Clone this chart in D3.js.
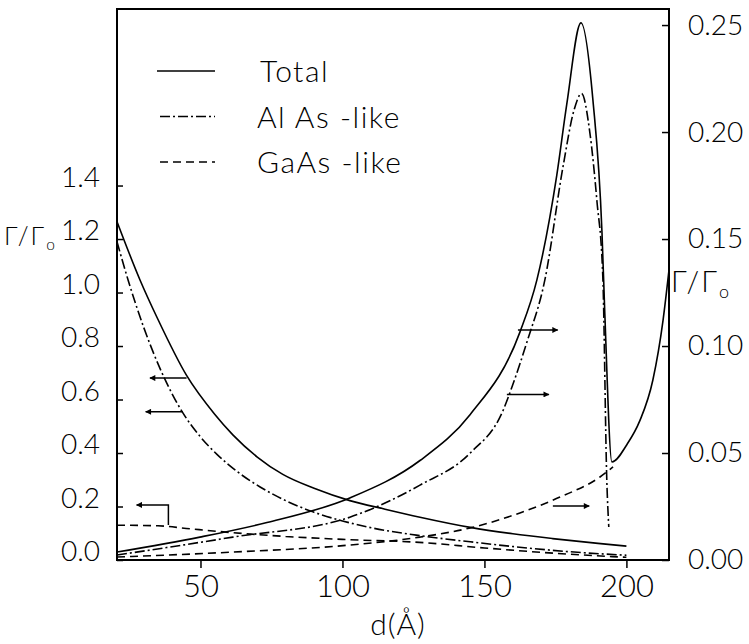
<!DOCTYPE html>
<html>
<head>
<meta charset="utf-8">
<script src="https://cdn.jsdelivr.net/npm/d3@7"></script>
<style>
    body { margin: 0; background: #fff; }
    svg text { font-family: Lato, "DejaVu Sans", sans-serif; font-weight: 300; fill: #000; }
</style>
</head>
<body>
<svg id="chart" width="749" height="644"></svg>
<script>
/*************************************************************************************************************
 * Data: d in Angstrom, left axis = G/G0 (decreasing curves), right axis = G/G0 (rising)
 *************************************************************************************************************/
let xTicks = [50, 100, 150, 200];
let leftTicks = [0, 0.2, 0.4, 0.6, 0.8, 1.0, 1.2, 1.4];
let rightTicks = [0, 0.05, 0.10, 0.15, 0.20, 0.25];

// decreasing branch, read on the left axis
let totalLeft = [[20.6, 1.265], [28.7, 1.047], [35, 0.9], [45.1, 0.69], [55, 0.545], [61.4, 0.468],
    [70, 0.385], [79, 0.32], [90, 0.268], [102.6, 0.222], [115, 0.19], [127.3, 0.16], [145, 0.122],
    [160, 0.098], [174, 0.08], [190, 0.062], [200, 0.052]];
let alasLeft = [[20.6, 1.19], [24.5, 1.047], [30, 0.87], [36, 0.71], [43.8, 0.55], [50, 0.46], [55.8, 0.395],
    [63, 0.33], [71, 0.273], [80, 0.222], [89.6, 0.18], [100, 0.146], [108.6, 0.124], [126, 0.093],
    [145, 0.068], [165, 0.045], [185, 0.027], [200, 0.018]];
let gaasLeft = [[20.6, 0.13], [35, 0.128], [45, 0.118], [61.5, 0.102], [80, 0.088], [100, 0.077],
    [127, 0.066], [150, 0.045], [175, 0.025], [200, 0.01]];

// rising branch, read on the right axis
let totalRight = [[20.6, 0.0037], [49.8, 0.0107], [73.4, 0.0175], [102.6, 0.029], [127.3, 0.0465],
    [145, 0.068], [162.5, 0.1065], [168.5, 0.131], [175.5, 0.18], [179, 0.213], [184, 0.251],
    [188.2, 0.215], [191.4, 0.153], [192.4, 0.115], [194.9, 0.0458], [200.2, 0.054], [204.7, 0.065],
    [209.3, 0.084], [212.9, 0.112], [215, 0.1355]];
let alasRight = [[20.6, 0.0023], [61.4, 0.0107], [102.6, 0.020], [127.3, 0.035], [145, 0.05],
    [156.6, 0.07], [160, 0.082], [165, 0.102], [171.3, 0.131], [177.7, 0.184], [181.5, 0.210], [184.2, 0.218],
    [187.1, 0.2], [189.6, 0.168], [191.7, 0.132], [193.1, 0.037], [193.8, 0.0154]];
let gaasRight = [[20.6, 0.0014], [61.4, 0.0037], [102.6, 0.007], [127.3, 0.0107], [145, 0.015],
    [162.5, 0.022], [176.6, 0.0294], [190.7, 0.0388], [195.3, 0.0435]];

// arrows telling which axis a curve belongs to (d from, d to, y value)
let leftArrows = [{y: 0.68, from: 45.1, to: 32.2}, {y: 0.554, from: 43.8, to: 30.7}];
let gaasBracket = {x: 38.7, y0: 0.131, y1: 0.206, to: 27.5};
let rightArrows = [{y: 0.1075, from: 161.8, to: 175.8}, {y: 0.0774, from: 157.9, to: 172.7},
    {y: 0.0252, from: 174.1, to: 186.9}];

let legendItems = ['Total', 'Al As -like', 'GaAs -like'];

/*************************************************************************************************************
 * Drawing
 *************************************************************************************************************/
let svg = d3.select('#chart');

let plot = {left: 117, right: 669, top: 9, bottom: 560};

let x = d3.scaleLinear().domain([20.6, 215]).range([plot.left, plot.right]);
let yLeft = d3.scaleLinear().domain([0, 2.06]).range([plot.bottom, plot.top]);
let yRight = d3.scaleLinear().domain([0, 2.06 / 8]).range([plot.bottom, plot.top]);

let styles = {
    total: null,
    alas: '10,3,2,3',
    gaas: '8,5'
};

function drawCurve(data, yScale, dash) {
    let line = d3.line()
        .curve(d3.curveMonotoneX)
        .x(d => x(d[0]))
        .y(d => yScale(d[1]));
    svg.append('path')
        .datum(data)
        .attr('d', line)
        .attr('fill', 'none')
        .attr('stroke', '#000')
        .attr('stroke-width', 1.6)
        .attr('stroke-dasharray', dash);
}

drawCurve(totalLeft, yLeft, styles.total);
drawCurve(alasLeft, yLeft, styles.alas);
drawCurve(gaasLeft, yLeft, styles.gaas);
drawCurve(totalRight, yRight, styles.total);
drawCurve(alasRight, yRight, styles.alas);
drawCurve(gaasRight, yRight, styles.gaas);

// arrowheads
svg.append('defs').append('marker')
    .attr('id', 'head')
    .attr('viewBox', '0 0 10 10')
    .attr('refX', 9).attr('refY', 5)
    .attr('markerWidth', 9).attr('markerHeight', 6)
    .attr('markerUnits', 'userSpaceOnUse')
    .attr('orient', 'auto')
    .append('path').attr('d', 'M0,0L10,5L0,10Z').attr('fill', '#000');

function drawArrow(points) {
    svg.append('path')
        .attr('d', d3.line()(points))
        .attr('fill', 'none')
        .attr('stroke', '#000')
        .attr('stroke-width', 1.5)
        .attr('marker-end', 'url(#head)');
}

leftArrows.forEach(a => drawArrow([[x(a.from), yLeft(a.y)], [x(a.to), yLeft(a.y)]]));
rightArrows.forEach(a => drawArrow([[x(a.from), yRight(a.y)], [x(a.to), yRight(a.y)]]));
drawArrow([[x(gaasBracket.x), yLeft(gaasBracket.y0)], [x(gaasBracket.x), yLeft(gaasBracket.y1)],
    [x(gaasBracket.to), yLeft(gaasBracket.y1)]]);

// frame
svg.append('rect')
    .attr('x', plot.left).attr('y', plot.top)
    .attr('width', plot.right - plot.left).attr('height', plot.bottom - plot.top)
    .attr('fill', 'none').attr('stroke', '#000').attr('stroke-width', 2);

// axes
let leftAxis = svg.append('g')
    .attr('transform', 'translate(' + plot.left + ',0)')
    .call(d3.axisLeft(yLeft).tickValues(leftTicks).tickSizeInner(-6).tickSizeOuter(0).tickPadding(17)
        .tickFormat(d3.format('.1f')));
leftAxis.selectAll('text').attr('dy', '0.02em').style('font-size', '28px');

let rightAxis = svg.append('g')
    .attr('transform', 'translate(' + plot.right + ',0)')
    .call(d3.axisRight(yRight).tickValues(rightTicks).tickSizeInner(-7).tickSizeOuter(0).tickPadding(19)
        .tickFormat(d3.format('.2f')));
rightAxis.selectAll('text').style('font-size', '28px');

let bottomAxis = svg.append('g')
    .attr('transform', 'translate(0,' + plot.bottom + ')')
    .call(d3.axisBottom(x).tickValues(xTicks).tickSizeInner(8).tickSizeOuter(0).tickPadding(7));
bottomAxis.selectAll('text').style('font-size', '31px');

[leftAxis, rightAxis, bottomAxis].forEach(g => {
    g.select('.domain').remove();
    g.selectAll('line').attr('stroke-width', 1.5);
    g.attr('font-family', null).attr('font-size', null);
});

// axis titles
svg.append('text')
    .attr('x', (plot.left + plot.right) / 2 + 5).attr('y', 635)
    .attr('text-anchor', 'middle')
    .style('font-size', '30px')
    .style('letter-spacing', '1px')
    .text('d(Å)');

function gammaLabel(px, py, size, spacing) {
    let t = svg.append('text').attr('x', px).attr('y', py)
        .style('font-size', size + 'px').style('letter-spacing', spacing + 'px');
    t.append('tspan').text('Γ/Γ');
    t.append('tspan').attr('dy', size * 0.2).style('font-size', (size * 0.62) + 'px').text('o');
}
gammaLabel(4, 245, 25, 2);
gammaLabel(671, 292, 29, 2);

// legend
let legend = svg.append('g');
let legendDash = [styles.total, styles.alas, styles.gaas];
legendItems.forEach((name, i) => {
    let ly = 71 + i * 45.5;
    legend.append('line')
        .attr('x1', i === 0 ? 157 : 160).attr('x2', 215)
        .attr('y1', ly).attr('y2', ly)
        .attr('stroke', '#000').attr('stroke-width', 1.6)
        .attr('stroke-dasharray', legendDash[i]);
    legend.append('text')
        .attr('x', i === 0 ? 260 : 257).attr('y', ly + 11)
        .style('font-size', '30px')
        .style('letter-spacing', '1.5px')
        .text(name);
});
</script>
</body>
</html>
